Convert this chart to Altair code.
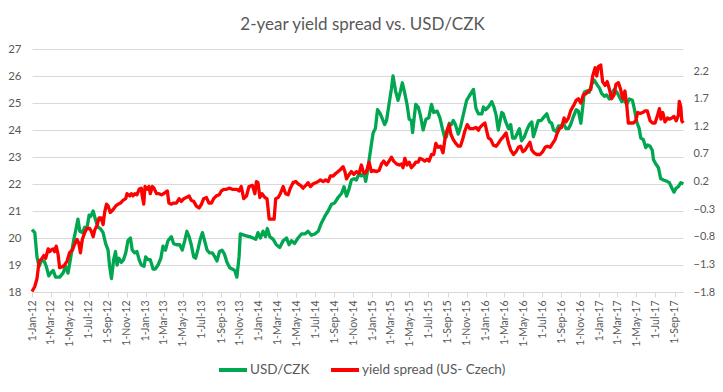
import altair as alt
import pandas as pd

# ---- data: (days since 1-Jan-2012, value) ----
usdczk_a = [(0,20.31),(9,20.2),(16,19.3),(23,18.95),(30,19.15),(39,19.15),(46,18.95),(54,18.6),(60,18.7),(68,18.8),
    (76,18.55),(89,18.55),(100,18.7),(108,18.95),(116,18.7),(125,19.3),(134,19.9),(143,20.4),(148,20.7),(154,20.25),
    (162,20.2),(170,20.4),(177,20.35),(184,20.85),(189,20.8),(197,21.0),(204,20.7),(213,20.4),(220,20.35),(229,20.2),
    (237,19.8),(245,19.55),(250,18.95),(256,18.5),(263,19.2),(269,19.5),(274,19.0),(280,19.25),(288,19.1),(295,19.2),
    (302,19.45),(309,19.9),(317,20.0),(323,19.55),(331,19.45),(338,19.5),(345,19.2),(352,19.0),(361,18.95),(366,19.3),
    (374,19.2),(381,19.2),(390,18.85),(397,18.85),(406,19.0),(415,19.25),(422,19.7),(430,19.55),(438,19.9),(449,20.05),
    (456,19.8),(465,19.75),(476,19.75),(484,19.55),(492,19.9),(499,20.25),(506,20.05),(513,19.75),(521,19.3),(527,19.25),
    (535,19.6),(542,19.95),(549,20.2),(556,19.9),(564,19.55),(572,19.45),(581,19.45),(589,19.3),(596,19.15),(604,19.5),
    (612,19.55),(620,19.4),(628,19.1),(637,18.9),(645,18.85),(653,18.8),(660,18.55),(667,19.3),(671,20.15),(685,20.1),
    (699,20.05)]
usdczk_b = [(701,20.05),(712,20.0),(721,19.95),(728,20.2),(736,20.0),(744,20.25),(752,20.05),(758,20.35),(766,20.05),(777,19.95),
    (787,19.75),(798,19.65),(809,19.9),(820,20.0),(828,19.75),(836,19.9),(846,19.8),(857,20.0),(868,20.15),(879,20.15),
    (889,20.25),(900,20.1),(911,20.15),(922,20.25),(932,20.55),(943,20.8),(954,21.0),(965,21.25),(975,21.3),(986,21.5),
    (997,21.65),(1005,21.9),(1013,21.55),(1021,21.8),(1029,22.15),(1037,22.2),(1045,22.15),(1054,22.4),(1061,22.3),(1069,22.4),
    (1075,22.1),(1081,22.5),(1086,22.9),(1093,23.45),(1099,23.9),(1106,24.05),(1113,24.75),(1122,24.6),(1129,24.4),(1136,24.2),
    (1142,24.35),(1150,24.95),(1158,25.55),(1163,26.0),(1171,25.45),(1179,25.1),(1187,25.45),(1193,25.75),(1201,25.35),(1208,24.95),
    (1215,24.4),(1222,24.35),(1226,23.9),(1231,24.45),(1236,24.95),(1244,24.85),(1251,24.55),(1260,24.0),(1269,24.4),(1278,24.45),
    (1287,24.95),(1294,24.65),(1305,24.7),(1314,24.45),(1322,24.05),(1330,23.7),(1335,23.75),(1344,24.25),(1351,24.2),(1357,24.35),
    (1364,24.2),(1373,23.85),(1380,24.1),(1389,24.55),(1400,25.1),(1408,25.25)]
usdczk_c = [(1422,25.5),(1430,24.8),(1438,24.6),(1449,24.6),(1454,24.85),(1461,24.75),(1470,24.85),(1481,25.05),(1488,24.85),(1495,24.55),
    (1502,24.0),(1513,24.65),(1518,24.6),(1526,24.3),(1535,24.05),(1542,24.2),(1548,23.7),(1556,23.7),(1564,23.9),(1570,24.05),
    (1577,23.6),(1586,23.75),(1594,24.0),(1602,24.2),(1610,24.3),(1615,23.75),(1623,24.05),(1631,24.35),(1640,24.35),(1647,24.45),
    (1658,24.6),(1667,24.3),(1674,24.25),(1680,24.0),(1688,23.95),(1696,24.15),(1703,24.15),(1712,24.25),(1720,24.05),(1728,24.05),
    (1735,24.2),(1744,24.5),(1753,24.75),(1760,24.7),(1768,24.25),(1774,24.85),(1779,25.4),(1787,25.45),(1795,25.4),(1803,25.7),
    (1811,25.85),(1819,25.7),(1828,25.55),(1835,25.35),(1844,25.25),(1851,25.3),(1860,25.15),(1867,25.35),(1875,25.5),(1884,25.4),
    (1891,25.25),(1900,25.05),(1908,25.1),(1916,24.95),(1924,25.15),(1934,25.1),(1940,24.8),(1948,24.3),(1956,24.05),(1961,23.7),
    (1969,23.65),(1977,23.35),(1983,23.45),(1991,23.4),(1998,23.25),(2002,22.9),(2009,22.75),(2018,22.6),(2025,22.2),(2034,22.15),
    (2045,22.1),(2053,22.05),(2061,21.85),(2068,21.7),(2075,21.85),(2082,21.9),(2090,22.05),(2098,22.0)]

spread_a = [(0,-1.79),(9,-1.70),(16,-1.56),(23,-1.24),(30,-1.21),(38,-1.14),(44,-1.19),(52,-1.02),(57,-1.07),(62,-1.04),
    (68,-1.02),(73,-1.07),(78,-0.97),(84,-1.12),(89,-1.36),(98,-1.34),(105,-1.31),(113,-1.24),(121,-1.09),(130,-1.04),
    (137,-0.94),(145,-0.85),(151,-0.92),(156,-1.09),(162,-0.85),(170,-0.72),(177,-0.65),(186,-0.65),(191,-0.70),(197,-0.80),
    (202,-0.68),(209,-0.60),(216,-0.46),(223,-0.46),(229,-0.58),(234,-0.36),(240,-0.21),(245,-0.24),(252,-0.36),(261,-0.31),
    (270,-0.24),(277,-0.21),(285,-0.19),(293,-0.14),(302,-0.11),(306,-0.02),(315,-0.06),(320,-0.02),(325,-0.06),(331,-0.02),
    (338,-0.04),(345,0.06),(352,0.08),(355,-0.06),(360,-0.21),(364,0.11),(371,0.06),(377,0.11),(381,-0.02),(388,0.11),
    (393,0.08),(401,-0.02),(409,-0.02),(417,-0.04),(424,-0.02),(431,0.01),(436,0.03),(441,-0.19),(449,-0.21),(456,-0.19),
    (465,-0.19),(474,-0.11),(481,-0.16),(489,-0.11),(497,-0.09),(506,-0.06),(513,-0.14),(521,-0.16),(529,-0.24),(538,-0.28),
    (546,-0.21),(553,-0.11),(562,-0.09),(570,-0.19),(578,-0.19),(585,-0.11),(594,-0.06),(603,-0.04),(610,0.03),(618,0.06),
    (626,0.06),(637,0.08),(645,0.06),(653,0.06),(660,0.06),(667,0.03),(674,0.11),(682,-0.11),(691,-0.06),(699,0.11)]
spread_b = [(710,0.13),(718,-0.02),(723,0.20),(728,0.18),(734,-0.09),(741,-0.02),(750,-0.09),(757,-0.11),(764,-0.48),(774,-0.48),
    (780,-0.48),(785,-0.11),(793,-0.09),(800,-0.02),(809,0.11),(817,-0.02),(825,-0.04),(832,0.08),(841,0.18),(850,0.20),
    (857,0.16),(865,0.13),(873,0.08),(882,0.13),(889,0.18),(897,0.11),(906,0.16),(914,0.18),(922,0.20),(929,0.23),
    (938,0.20),(946,0.23),(954,0.20),(961,0.30),(970,0.30),(979,0.35),(986,0.38),(994,0.42),(1002,0.47),(1008,0.38),
    (1013,0.25),(1022,0.33),(1029,0.38),(1037,0.33),(1045,0.38),(1054,0.35),(1061,0.50),(1067,0.38),(1072,0.35),(1077,0.38),
    (1086,0.55),(1093,0.38),(1101,0.40),(1110,0.38),(1118,0.40),(1126,0.52),(1133,0.57),(1142,0.50),(1150,0.57),(1158,0.64),
    (1165,0.57),(1174,0.52),(1183,0.50),(1190,0.52),(1195,0.45),(1201,0.62),(1208,0.50),(1215,0.55),(1222,0.45),(1230,0.50),
    (1236,0.55),(1244,0.55),(1249,0.62),(1258,0.60),(1265,0.57),(1273,0.60),(1279,0.57),(1287,0.69),(1294,0.69),(1301,0.89),
    (1308,0.82),(1316,0.84),(1324,0.72),(1330,0.96),(1337,1.13),(1344,1.23),(1349,1.06),(1357,0.96),(1365,0.89),(1373,0.84),
    (1380,0.84),(1387,0.96),(1394,1.11),(1402,1.23),(1410,1.16)]
spread_c = [(1422,1.16),(1430,1.18),(1438,1.13),(1443,1.18),(1452,1.23),(1459,1.26),(1465,1.11),(1470,0.99),(1478,0.96),(1486,0.86),
    (1495,0.84),(1502,0.89),(1510,0.96),(1518,1.01),(1527,1.08),(1535,0.89),(1542,0.77),(1551,0.69),(1559,0.74),(1567,0.82),
    (1574,0.84),(1581,0.74),(1588,0.77),(1596,0.84),(1604,0.91),(1610,0.77),(1617,0.72),(1626,0.69),(1637,0.69),(1645,0.74),
    (1653,0.82),(1660,0.84),(1669,0.82),(1677,0.89),(1685,0.96),(1692,1.08),(1699,1.16),(1706,1.18),(1714,1.35),(1720,1.28),
    (1728,1.35),(1735,1.48),(1744,1.57),(1753,1.67),(1760,1.70),(1768,1.62),(1776,1.77),(1785,1.79),(1792,1.84),(1800,1.87),
    (1806,2.11),(1814,2.26),(1819,2.11),(1824,2.28),(1832,2.31),(1838,2.01),(1846,1.94),(1853,2.01),(1860,1.87),(1867,1.70),
    (1875,1.77),(1881,1.96),(1889,1.99),(1896,1.87),(1903,1.70),(1910,1.84),(1916,1.57),(1921,1.26),(1929,1.26),(1937,1.26),
    (1945,1.30),(1951,1.45),(1959,1.43),(1967,1.45),(1975,1.48),(1982,1.48),(1991,1.30),(1999,1.26),(2007,1.26),(2015,1.40),
    (2021,1.52),(2026,1.33),(2032,1.45),(2039,1.28),(2047,1.35),(2053,1.33),(2061,1.35),(2068,1.38),(2075,1.30),(2082,1.40),
    (2085,1.65),(2090,1.55),(2093,1.30),(2098,1.26)]

x_tick_labels = [f"1-{m}-{y}" for y in ["12", "13", "14", "15", "16", "17"]
                 for m in ["Jan", "Mar", "May", "Jul", "Sep", "Nov"]][:-1]
left_ticks = [18, 19, 20, 21, 22, 23, 24, 25, 26, 27]
right_ticks = [-1.8, -1.3, -0.8, -0.3, 0.2, 0.7, 1.2, 1.7, 2.2]

series_names = ["USD/CZK", "yield spread (US- Czech)"]
series_colors = ["#00A650", "#FF0000"]

base = pd.Timestamp("2012-01-01")


def frame(pairs, name):
    return pd.DataFrame({
        "date": [(base + pd.Timedelta(days=d)).strftime("%Y-%m-%dT00:00:00") for d, _ in pairs],
        "value": [v for _, v in pairs],
        "series": name,
    })


df_g = frame(usdczk_a + usdczk_b + usdczk_c, series_names[0])
df_r = frame(spread_a + spread_b + spread_c, series_names[1])

tick_dates = [pd.to_datetime(t, format="%d-%b-%y") for t in x_tick_labels]
tick_vals = [alt.DateTime(year=t.year, month=t.month, date=t.day) for t in tick_dates]
end_date = base + pd.Timedelta(days=2097)

label_font = "Lato"
grey = "#595959"

x_enc = alt.X(
    "date:T",
    scale=alt.Scale(domain=[alt.DateTime(year=2012, month=1, date=1),
                            alt.DateTime(year=end_date.year, month=end_date.month, date=end_date.day)]),
    axis=alt.Axis(values=tick_vals, format="%-d-%b-%y", labelAngle=-90, grid=False,
                  domainColor="#d9d9d9", tickColor="#d9d9d9", tickSize=5, labelFontSize=10.5,
                  labelFont=label_font, labelColor=grey, labelPadding=3, title=None,
                  labelOverlap=False),
)

color_enc = alt.Color(
    "series:N",
    scale=alt.Scale(domain=series_names, range=series_colors),
    legend=alt.Legend(title=None, orient="none", direction="horizontal", legendX=185, legendY=305,
                      symbolType="stroke", symbolSize=784, symbolStrokeWidth=4,
                      labelFont=label_font, labelFontSize=13.5, labelColor=grey, labelOffset=1,
                      columnPadding=13, labelLimit=300),
)

left = alt.Chart(df_g).mark_line(strokeWidth=3.3, strokeJoin="round").encode(
    x=x_enc,
    y=alt.Y("value:Q", scale=alt.Scale(domain=[18, 27], nice=False, zero=False),
            axis=alt.Axis(values=left_ticks, grid=True, gridColor="#d9d9d9", domain=False, ticks=False,
                          labelFont=label_font, labelFontSize=11.5, labelColor=grey, labelPadding=11,
                          title=None)),
    color=color_enc,
)

right = alt.Chart(df_r).mark_line(strokeWidth=3.3, strokeJoin="round").encode(
    x=x_enc,
    y=alt.Y("value:Q", scale=alt.Scale(domain=[-1.8, 2.6], nice=False, zero=False),
            axis=alt.Axis(orient="right", values=right_ticks, format=".1f", grid=False, domain=False,
                          ticks=False, labelFont=label_font, labelFontSize=11, labelColor=grey,
                          labelPadding=10, title=None)),
    color=color_enc,
)

chart = alt.layer(left, right).resolve_scale(y="independent").properties(
    width=651,
    height=243,
    autosize=alt.AutoSizeParams(type="none"),
    padding={"left": 24, "top": 41, "right": 32, "bottom": 90},
    title=alt.TitleParams(text="2-year yield spread vs. USD/CZK", font=label_font, fontSize=17,
                          fontWeight="normal", color=grey, anchor="middle", offset=9, dx=5),
).configure_view(stroke=None)

chart.save("out.html", embed_options={"renderer": "svg", "actions": False})
